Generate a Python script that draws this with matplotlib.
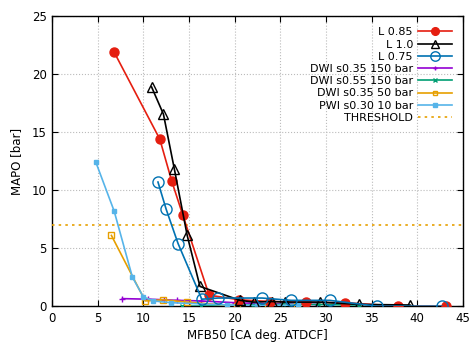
#!/usr/bin/env python3
"""MAPO vs MFB50 comparison chart"""

import matplotlib
matplotlib.use('Agg')
import matplotlib.pyplot as plt

# L 0.85
l085_x = [6.8, 11.8, 13.1, 14.3, 17.2, 20.5, 23.9, 27.8, 32.1, 37.9, 43.2]
l085_y = [21.9, 14.4, 10.8, 7.9, 0.95, 0.55, 0.4, 0.35, 0.3, 0.0, 0.0]
# L 1.0
l10_x = [10.9, 12.2, 13.4, 14.8, 16.2, 20.6, 22.1, 24.1, 25.5, 29.3, 33.6, 39.2]
l10_y = [18.9, 16.55, 11.8, 6.1, 1.7, 0.5, 0.35, 0.4, 0.35, 0.35, 0.15, 0.1]
# L 0.75
l075_x = [11.6, 12.5, 13.8, 16.4, 18.2, 23.0, 26.2, 30.4, 35.6, 42.7]
l075_y = [10.7, 8.35, 5.4, 0.6, 0.7, 0.7, 0.5, 0.5, 0.0, 0.0]
# DWI s0.35 150 bar
dwi35_x = [7.7, 10.5, 12.3, 13.7, 16.3, 20.0, 24.0, 29.0]
dwi35_y = [0.65, 0.6, 0.55, 0.5, 0.45, 0.3, 0.2, 0.15]
# DWI s0.55 150 bar
dwi55_x = [14.2, 16.3, 19.2, 22.0, 25.3, 29.1, 33.6]
dwi55_y = [0.0, 0.0, 0.05, 0.1, 0.15, 0.15, 0.1]
# DWI s0.35 50 bar
dwi50_x = [6.5, 10.2, 12.2, 14.8, 20.3, 23.6, 26.8]
dwi50_y = [6.1, 0.45, 0.55, 0.35, 0.0, 0.05, 0.05]
# PWI s0.30 10 bar
pwi_x = [4.8, 6.8, 8.8, 10.0, 11.1, 13.0, 19.2, 22.5, 26.9]
pwi_y = [12.4, 8.2, 2.5, 0.8, 0.45, 0.3, 0.1, 0.05, 0.1]
threshold = 7.0


def main() -> None:
    plt.rcParams['font.family'] = ['DejaVu Sans']
    fig = plt.figure(figsize=(4.69, 3.44), dpi=100)
    ax = fig.add_axes([0.111, 0.110, 0.876, 0.843])

    ax.plot(l085_x, l085_y, color='#e51e10', lw=1.2, marker='o', ms=6.5,
            label='L 0.85', zorder=5)
    ax.plot(l10_x, l10_y, color='black', lw=1.2, marker='^', ms=7,
            mfc='none', mew=1.0, label='L 1.0', zorder=5)
    ax.plot(l075_x, l075_y, color='#0072b2', lw=1.2, marker='o', ms=8,
            mfc='none', mew=1.0, label='L 0.75', zorder=5)
    ax.plot(dwi35_x, dwi35_y, color='#9400d3', lw=1.2, marker='+', ms=4,
            label='DWI s0.35 150 bar', zorder=4)
    ax.plot(dwi55_x, dwi55_y, color='#009e73', lw=1.2, marker='x', ms=3.5,
            label='DWI s0.55 150 bar', zorder=4)
    ax.plot(dwi50_x, dwi50_y, color='#e69f00', lw=1.2, marker='s', ms=4,
            mfc='none', label='DWI s0.35 50 bar', zorder=4)
    ax.plot(pwi_x, pwi_y, color='#56b4e9', lw=1.2, marker='s', ms=3,
            label='PWI s0.30 10 bar', zorder=4)
    ax.axhline(threshold, color='#e69f00', lw=1.2, ls=(0, (1.5, 2.5)),
               label='THRESHOLD', zorder=3)

    ax.set_xlim(0, 45)
    ax.set_ylim(0, 25)
    ax.set_xticks(range(0, 46, 5))
    ax.set_yticks(range(0, 26, 5))
    ax.tick_params(direction='in', top=True, right=True, labelsize=8.5,
                   length=4, width=0.8, pad=4)
    ax.grid(True, color='#bbbbbb', ls=':', lw=0.8)
    for spine in ax.spines.values():
        spine.set_linewidth(1.0)

    ax.set_xlabel('MFB50 [CA deg. ATDCF]', fontsize=8.5, labelpad=3)
    ax.set_ylabel('MAPO [bar]', fontsize=8.5, labelpad=6)

    ax.legend(loc='upper right', frameon=False, markerfirst=False,
              fontsize=8, labelspacing=0.2, handlelength=3.0,
              handletextpad=0.5, borderaxespad=0.6, markerscale=0.85)

    fig.savefig('out.png', dpi=100)


if __name__ == '__main__':
    main()
